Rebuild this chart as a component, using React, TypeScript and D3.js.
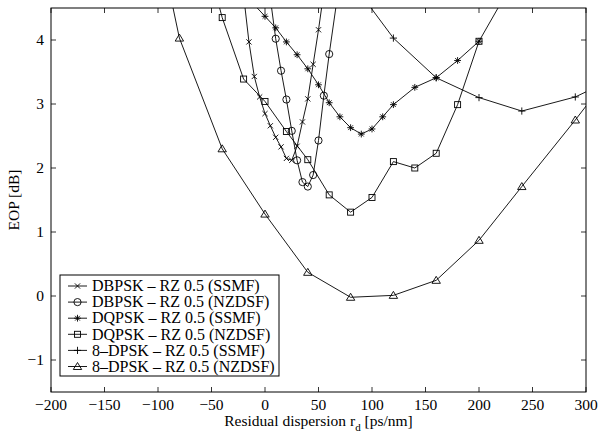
import React from "react";
import { scaleLinear, line } from "d3";

// x: residual dispersion [ps/nm], y: EOP [dB]
const dbpskSsmfX = [-20, -15, -10, -5, 0, 5, 10, 15, 20, 25, 30, 35, 40, 45, 50, 55];
const dbpskSsmfY = [4.7, 3.97, 3.43, 3.11, 2.85, 2.66, 2.48, 2.33, 2.15, 2.12, 2.34, 2.72, 3.08, 3.62, 4.16, 4.75];

const dbpskNzX = [5, 10, 15, 20, 25, 30, 35, 40, 45, 50, 55, 60, 70];
const dbpskNzY = [4.65, 4.02, 3.52, 3.07, 2.58, 2.12, 1.78, 1.71, 1.89, 2.43, 3.13, 3.78, 4.95];

const dqpskSsmfX = [-10, 0, 10, 20, 30, 40, 50, 60, 70, 80, 90, 100, 110, 120, 140, 160, 180, 200];
const dqpskSsmfY = [4.55, 4.37, 4.19, 3.97, 3.77, 3.55, 3.3, 3.02, 2.8, 2.63, 2.53, 2.61, 2.8, 2.99, 3.26, 3.41, 3.68, 3.98];

const dqpskNzX = [-60, -40, -20, 0, 20, 40, 60, 80, 100, 120, 140, 160, 180, 200, 240];
const dqpskNzY = [5.6, 4.35, 3.39, 3.04, 2.57, 2.13, 1.58, 1.31, 1.54, 2.1, 2.0, 2.23, 2.99, 3.98, 5.15];

const dpsk8SsmfX = [80, 120, 160, 200, 240, 290, 320];
const dpsk8SsmfY = [4.93, 4.03, 3.41, 3.1, 2.89, 3.11, 3.35];

const dpsk8NzX = [-120, -80, -40, 0, 40, 80, 120, 160, 200, 240, 290, 320];
const dpsk8NzY = [7.2, 4.03, 2.3, 1.28, 0.37, -0.02, 0.01, 0.245, 0.87, 1.71, 2.75, 3.4];

const seriesNames = [
  "DBPSK \u2013 RZ 0.5 (SSMF)",
  "DBPSK \u2013 RZ 0.5 (NZDSF)",
  "DQPSK \u2013 RZ 0.5 (SSMF)",
  "DQPSK \u2013 RZ 0.5 (NZDSF)",
  "8\u2013DPSK \u2013 RZ 0.5 (SSMF)",
  "8\u2013DPSK \u2013 RZ 0.5 (NZDSF)",
];
const markerTypes = ["x", "circle", "star", "square", "plus", "triangle"];

const xTicks = [-200, -150, -100, -50, 0, 50, 100, 150, 200, 250, 300];
const yTicks = [-1, 0, 1, 2, 3, 4];

const W = 598;
const H = 442;
const m = { left: 51, right: 586, top: 8, bottom: 392 };
const font = "Liberation Serif";

function Marker({ type, x, y }: { type: string; x: number; y: number }) {
  const s = { fill: "none", stroke: "#000", strokeWidth: 0.9 };
  if (type === "x") {
    const d = 2.6;
    return <path d={`M${x - d},${y - d}L${x + d},${y + d}M${x - d},${y + d}L${x + d},${y - d}`} {...s} />;
  }
  if (type === "circle") return <circle cx={x} cy={y} r={3.6} {...s} />;
  if (type === "square") return <rect x={x - 3} y={y - 3} width={6} height={6} {...s} />;
  if (type === "plus") {
    const d = 3.6;
    return <path d={`M${x - d},${y}L${x + d},${y}M${x},${y - d}L${x},${y + d}`} {...s} />;
  }
  if (type === "triangle") {
    return <path d={`M${x},${y - 4}L${x + 4.2},${y + 3}L${x - 4.2},${y + 3}Z`} {...s} />;
  }
  // star
  const d = 3.4;
  const e = d * 0.7;
  return (
    <path
      d={`M${x - d},${y}L${x + d},${y}M${x},${y - d}L${x},${y + d}M${x - e},${y - e}L${x + e},${y + e}M${x - e},${y + e}L${x + e},${y - e}`}
      {...s}
    />
  );
}

export default function App() {
  const xScale = scaleLinear().domain([-200, 300]).range([m.left, m.right]);
  const yScale = scaleLinear().domain([-1.5, 4.5]).range([m.bottom, m.top]);

  const allX = [dbpskSsmfX, dbpskNzX, dqpskSsmfX, dqpskNzX, dpsk8SsmfX, dpsk8NzX];
  const allY = [dbpskSsmfY, dbpskNzY, dqpskSsmfY, dqpskNzY, dpsk8SsmfY, dpsk8NzY];

  const gen = line<[number, number]>()
    .x((d) => xScale(d[0]))
    .y((d) => yScale(d[1]));

  const inside = (x: number, y: number) => x >= -200 && x <= 300 && y >= -1.5 && y <= 4.5;

  const legX = 60;
  const legY = 275;
  const legW = 219;
  const legH = 101;
  const rowH = 16.1;

  return (
    <svg width={W} height={H} style={{ position: "absolute", left: 0, top: 0, background: "#fff", fontFamily: font }}>
      <defs>
        <clipPath id="plot">
          <rect x={m.left} y={m.top} width={m.right - m.left} height={m.bottom - m.top} />
        </clipPath>
      </defs>
      <rect x={0} y={0} width={W} height={H} fill="#fff" />

      {/* ticks */}
      {xTicks.map((t) => (
        <g key={"xt" + t}>
          <line x1={xScale(t)} x2={xScale(t)} y1={m.bottom} y2={m.bottom - 5} stroke="#000" strokeWidth={0.8} />
          <line x1={xScale(t)} x2={xScale(t)} y1={m.top} y2={m.top + 5} stroke="#000" strokeWidth={0.8} />
          <text x={xScale(t)} y={m.bottom + 18} fontSize={15.5} textAnchor="middle" style={{ fontFamily: font }}>
            {t < 0 ? "\u2212" + Math.abs(t) : t}
          </text>
        </g>
      ))}
      {yTicks.map((t) => (
        <g key={"yt" + t}>
          <line x1={m.left} x2={m.left + 5} y1={yScale(t)} y2={yScale(t)} stroke="#000" strokeWidth={0.8} />
          <line x1={m.right} x2={m.right - 5} y1={yScale(t)} y2={yScale(t)} stroke="#000" strokeWidth={0.8} />
          <text x={m.left - 7} y={yScale(t) + 5} fontSize={15.5} textAnchor="end" style={{ fontFamily: font }}>
            {t < 0 ? "\u2212" + Math.abs(t) : t}
          </text>
        </g>
      ))}

      {/* series */}
      <g clipPath="url(#plot)">
        {allX.map((xs, i) => {
          const pts = xs.map((x, j) => [x, allY[i][j]] as [number, number]);
          return (
            <g key={"s" + i}>
              <path d={gen(pts) || ""} fill="none" stroke="#000" strokeWidth={0.9} />
              {pts
                .filter((p) => inside(p[0], p[1]))
                .map((p, j) => (
                  <Marker key={j} type={markerTypes[i]} x={xScale(p[0])} y={yScale(p[1])} />
                ))}
            </g>
          );
        })}
      </g>

      <rect x={m.left} y={m.top} width={m.right - m.left} height={m.bottom - m.top} fill="none" stroke="#000" strokeWidth={1} />

      {/* legend */}
      <rect x={legX} y={legY} width={legW} height={legH} fill="#fff" stroke="#000" strokeWidth={1} />
      {seriesNames.map((name, i) => {
        const cy = legY + 11 + i * rowH;
        return (
          <g key={"l" + i}>
            <line x1={legX + 8} x2={legX + 27} y1={cy} y2={cy} stroke="#000" strokeWidth={0.9} />
            <Marker type={markerTypes[i]} x={legX + 17.5} y={cy} />
            <text x={legX + 32} y={cy + 5.2} fontSize={16} style={{ fontFamily: font }}>
              {name}
            </text>
          </g>
        );
      })}

      {/* axis labels */}
      <text x={(m.left + m.right) / 2} y={426} fontSize={15.5} textAnchor="middle" style={{ fontFamily: font }}>
        Residual dispersion r<tspan dy={5} fontSize={11}>d</tspan>
        <tspan dy={-5}> [ps/nm]</tspan>
      </text>
      <text
        transform={`translate(19,${(m.top + m.bottom) / 2}) rotate(-90)`}
        fontSize={15.5}
        textAnchor="middle"
        style={{ fontFamily: font }}
      >
        EOP [dB]
      </text>
    </svg>
  );
}
